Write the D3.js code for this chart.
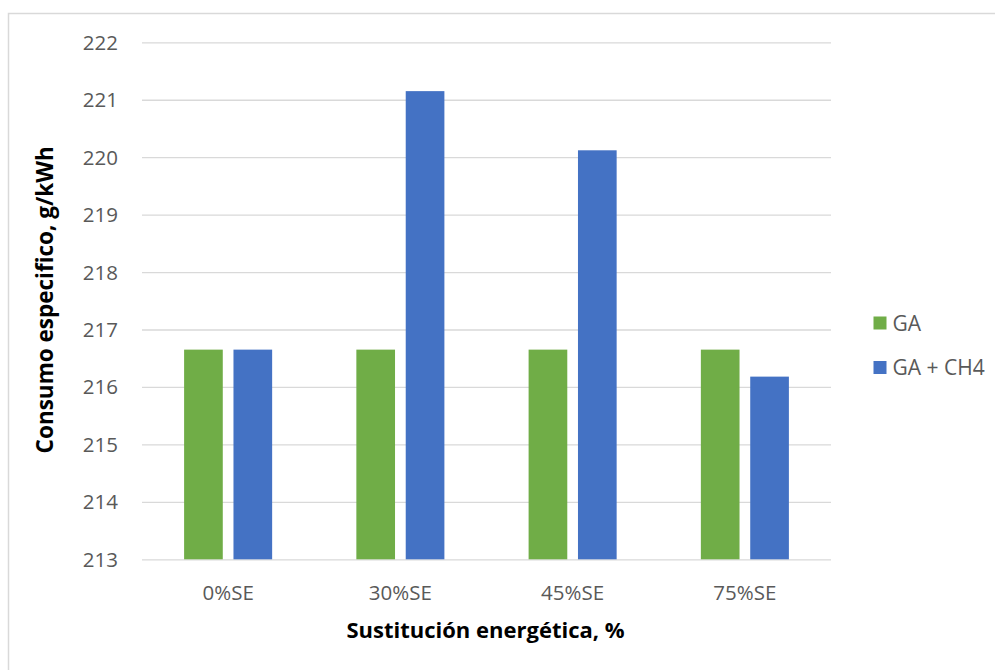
<!DOCTYPE html>
<html>
<head>
<meta charset="utf-8">
<script src="https://cdn.jsdelivr.net/npm/d3@7"></script>
<style>
  html, body { margin: 0; padding: 0; background: #fff; }
  svg { display: block; }
  text { font-family: "Open Sans", "Noto Sans", sans-serif; }
</style>
</head>
<body>
<svg id="chart" width="995" height="670"></svg>
<script>
// Specific fuel consumption by energy substitution level
const categories = ["0%SE", "30%SE", "45%SE", "75%SE"];
const seriesNames = ["GA", "GA + CH4"];
const valuesGA = [216.65, 216.65, 216.65, 216.65];
const valuesGACH4 = [216.65, 221.15, 220.12, 216.18];
const yTicks = [213, 214, 215, 216, 217, 218, 219, 220, 221, 222];
const colors = ["#70ad47", "#4472c4"];

const seriesValues = [valuesGA, valuesGACH4];
const rows = categories.map((c, i) => ({
  category: c,
  values: seriesNames.map((s, j) => ({ series: s, value: seriesValues[j][i] }))
}));

const svg = d3.select("#chart");
const plot = { left: 142, right: 831, top: 42.3, bottom: 559.3 };

// Outer chart frame
svg.append("rect")
  .attr("x", 8.5).attr("y", 13.5)
  .attr("width", 1100).attr("height", 800)
  .attr("fill", "none").attr("stroke", "#d9d9d9").attr("stroke-width", 1.5);

const y = d3.scaleLinear().domain([213, 222]).range([plot.bottom, plot.top]);
const x0 = d3.scaleBand().domain(categories).range([plot.left, plot.right]).padding(0);
const x1 = d3.scaleBand().domain(seriesNames).range([0, x0.bandwidth()])
  .paddingInner(0.2166).paddingOuter(0.853);

// Horizontal gridlines and value labels
const yAxis = d3.axisLeft(y).tickValues(yTicks).tickSize(-(plot.right - plot.left)).tickPadding(24)
  .tickFormat(d3.format("d"));
const gy = svg.append("g").attr("transform", `translate(${plot.left},0)`).call(yAxis);
gy.select(".domain").remove();
gy.selectAll(".tick line").attr("stroke", "#d9d9d9").attr("stroke-width", 1.3);
gy.selectAll(".tick text")
  .attr("fill", "#595959").attr("font-size", 20.5).attr("dy", "0.34em");

// Bars
const groups = svg.append("g").selectAll("g").data(rows).join("g")
  .attr("transform", d => `translate(${x0(d.category)},0)`);
groups.selectAll("rect").data(d => d.values).join("rect")
  .attr("x", d => x1(d.series))
  .attr("width", x1.bandwidth())
  .attr("y", d => y(d.value))
  .attr("height", d => y(213) - y(d.value))
  .attr("fill", (d, i) => colors[i]);

// Category axis labels
const xAxis = d3.axisBottom(x0).tickSize(0).tickPadding(26);
const gx = svg.append("g").attr("transform", `translate(0,${plot.bottom})`).call(xAxis);
gx.select(".domain").remove();
gx.selectAll(".tick text").attr("fill", "#595959").attr("font-size", 20.5);

// Axis titles
svg.append("text")
  .attr("x", (plot.left + plot.right) / 2 - 1).attr("y", 638)
  .attr("text-anchor", "middle").attr("font-size", 22).attr("font-weight", "bold")
  .attr("fill", "#000")
  .text("Sustitución energética, %");

svg.append("text")
  .attr("transform", `translate(53,${(plot.top + plot.bottom) / 2 - 1}) rotate(-90)`)
  .attr("text-anchor", "middle").attr("font-size", 22.5).attr("font-weight", "bold")
  .attr("fill", "#000")
  .text("Consumo especifico, g/kWh");

// Legend
const legend = svg.append("g").selectAll("g").data(seriesNames).join("g")
  .attr("transform", (d, i) => `translate(873.5,${316.5 + i * 44.5})`);
legend.append("rect").attr("width", 13).attr("height", 13).attr("fill", (d, i) => colors[i]);
legend.append("text").attr("x", 19).attr("y", 14)
  .attr("font-size", 21).attr("fill", "#595959").text(d => d);
</script>
</body>
</html>
